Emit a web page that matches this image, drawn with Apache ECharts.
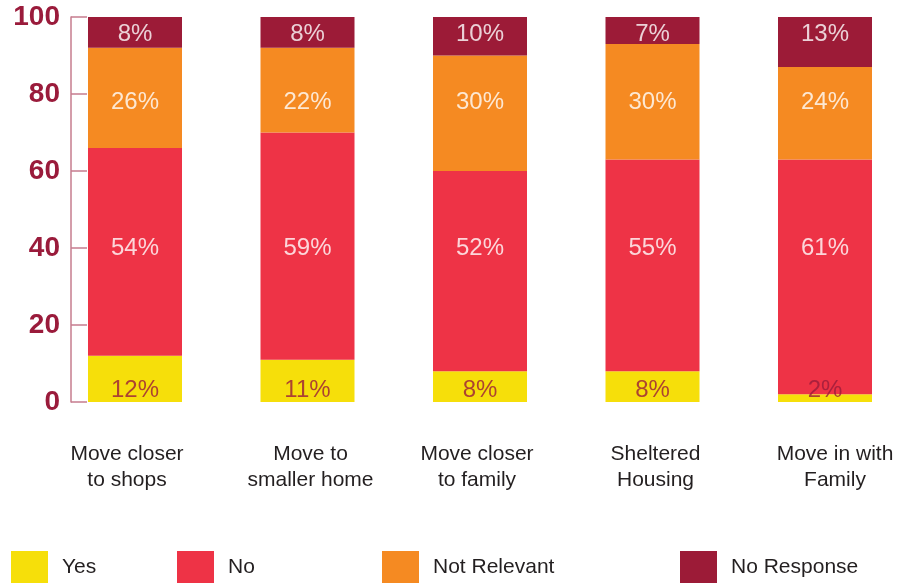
<!DOCTYPE html>
<html>
<head>
<meta charset="utf-8">
<script src="https://cdn.jsdelivr.net/npm/echarts@6/dist/echarts.min.js"></script>
<style>
  html, body { margin: 0; padding: 0; background: #fff; }
  #chart { width: 901px; height: 584px; }
</style>
</head>
<body>
<div id="chart"></div>
<script>
// Housing intentions, share of respondents (%)
const categories = ['Move closer\nto shops', 'Move to\nsmaller home', 'Move closer\nto family', 'Sheltered\nHousing', 'Move in with\nFamily'];
const yes         = [12, 11, 8, 8, 2];
const no          = [54, 59, 52, 55, 61];
const notRelevant = [26, 22, 30, 30, 24];
const noResponse  = [8, 8, 10, 7, 13];
const yTicks      = [0, 20, 40, 60, 80, 100];

// horizontal nudge (px) of each category caption relative to its bar
const captionShift = [-8, 3, -3, 3, 10];

const COLORS = {
  yes: '#F6DF0A',
  no: '#EE3346',
  notRelevant: '#F58A22',
  noResponse: '#9C1B37'
};
const FONT = '"Liberation Sans", Arial, sans-serif';
const AXIS_RED = '#9A1B3B';

const chart = echarts.init(document.getElementById('chart'), null, { renderer: 'canvas' });

function barSeries(name, data, color) {
  return {
    name, type: 'bar', stack: 'total', data, barWidth: 94, clip: false,
    itemStyle: { color }, label: { show: false }, silent: true
  };
}

// Row of value labels placed at a common height across the bars
function labelRow(values, rowY, color) {
  return {
    type: 'scatter', symbolSize: 0, silent: true, z: 5, clip: false,
    data: values.map((v, i) => [i, rowY, v]),
    label: {
      show: true, position: 'inside', color, fontFamily: FONT, fontSize: 24,
      formatter: p => p.value[2] + '%'
    }
  };
}

function legendItem(name, left) {
  return {
    data: [name], left, top: 551, padding: 0, orient: 'horizontal',
    itemWidth: 37, itemHeight: 32, itemGap: 0, icon: 'rect',
    textStyle: { fontFamily: FONT, fontSize: 21, color: '#231F20', padding: [0, 0, 0, 9] },
    selectedMode: false
  };
}

const categoryItems = categories.map((c, i) => {
  const s = captionShift[i];
  return {
    value: c,
    textStyle: { padding: s < 0 ? [0, -2 * s, 0, 0] : [0, 0, 0, 2 * s] }
  };
});

chart.setOption({
  animation: false,
  // bar centres sit on the category ticks; the first and last bars overhang the grid edges
  grid: { left: 135, top: 17, right: 76, bottom: 182, containLabel: false },
  legend: [
    legendItem('Yes', 11),
    legendItem('No', 177),
    legendItem('Not Relevant', 382),
    legendItem('No Response', 680)
  ],
  xAxis: {
    type: 'category', data: categoryItems, boundaryGap: false,
    axisLine: { show: false }, axisTick: { show: false }, splitLine: { show: false },
    axisLabel: { margin: 39, fontFamily: FONT, fontSize: 21, color: '#231F20', lineHeight: 26, interval: 0 }
  },
  yAxis: {
    type: 'value', min: yTicks[0], max: yTicks[yTicks.length - 1], interval: 20,
    offset: 64,
    splitLine: { show: false },
    axisLine: { show: true, lineStyle: { color: '#C67C8E', width: 1.5 } },
    axisTick: { show: true, inside: true, length: 16, lineStyle: { color: '#C67C8E', width: 1.5 } },
    axisLabel: { margin: 11, fontFamily: FONT, fontSize: 28, fontWeight: 'bold', color: AXIS_RED }
  },
  series: [
    barSeries('Yes', yes, COLORS.yes),
    barSeries('No', no, COLORS.no),
    barSeries('Not Relevant', notRelevant, COLORS.notRelevant),
    barSeries('No Response', noResponse, COLORS.noResponse),
    labelRow(yes, 3.1, AXIS_RED),
    labelRow(no, 40, '#FFFFFF'),
    labelRow(notRelevant, 77.7, '#FFFFFF'),
    labelRow(noResponse, 95.5, '#FFFFFF')
  ]
});
</script>
</body>
</html>
